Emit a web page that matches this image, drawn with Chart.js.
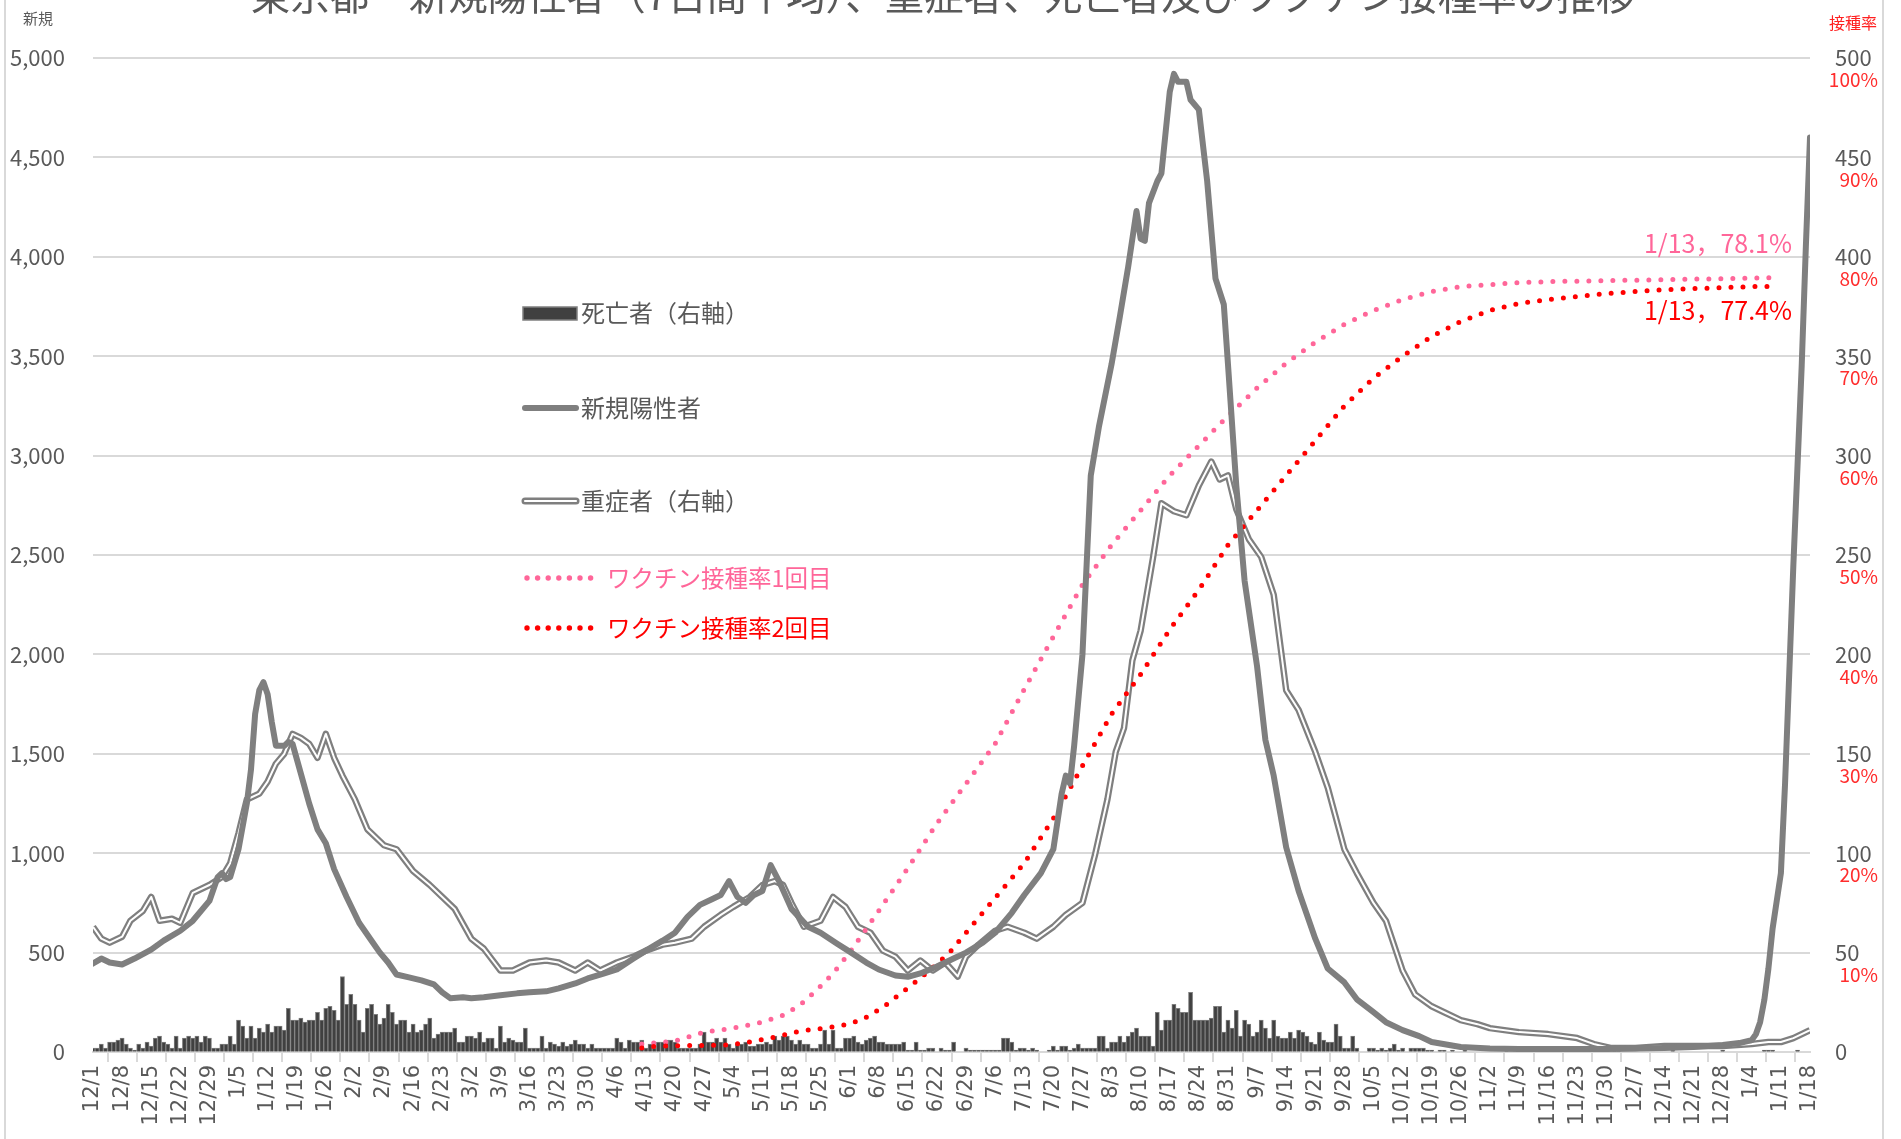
<!DOCTYPE html>
<html>
<head>
<meta charset="utf-8">
<script src="https://cdn.jsdelivr.net/npm/chart.js@4.4.1/dist/chart.umd.min.js"></script>
<style>
  html, body { margin: 0; padding: 0; background: #fff; }
  canvas { display: block; }
</style>
</head>
<body>
<canvas id="chart" width="1901" height="1139"></canvas>
<script>
// ---- data ----
const titleText = '東京都　新規陽性者（7日間平均）、重症者、死亡者及びワクチン接種率の推移';
const pctTicks = [10, 20, 30, 40, 50, 60, 70, 80, 90, 100];

// 新規陽性者 (7日間平均), left axis, from 2020/12/1
const newCases = [
  ['12/1', 445], ['12/3', 470], ['12/5', 450], ['12/8', 440], ['12/11', 470], ['12/15', 515],
  ['12/18', 560], ['12/22', 610], ['12/25', 660], ['12/29', 760], ['12/31', 880], ['1/1', 900],
  ['1/2', 870], ['1/3', 880], ['1/5', 1020], ['1/7', 1250], ['1/8', 1420], ['1/9', 1700],
  ['1/10', 1820], ['1/11', 1860], ['1/12', 1800], ['1/13', 1660], ['1/14', 1540], ['1/16', 1540],
  ['1/17', 1560], ['1/18', 1550], ['1/20', 1400], ['1/22', 1250], ['1/24', 1120], ['1/26', 1050],
  ['1/28', 920], ['1/31', 780], ['2/3', 650], ['2/6', 560], ['2/8', 500], ['2/10', 450],
  ['2/12', 390], ['2/15', 375], ['2/18', 360], ['2/21', 340], ['2/23', 300], ['2/25', 270],
  ['2/28', 275], ['3/2', 270], ['3/5', 275], ['3/9', 285], ['3/13', 295], ['3/16', 300],
  ['3/20', 305], ['3/23', 320], ['3/27', 345], ['3/30', 370], ['4/3', 395], ['4/6', 415],
  ['4/10', 470], ['4/13', 510], ['4/17', 560], ['4/20', 600], ['4/23', 680], ['4/26', 740],
  ['4/29', 770], ['5/1', 790], ['5/3', 860], ['5/5', 780], ['5/7', 750], ['5/9', 790],
  ['5/11', 810], ['5/13', 940], ['5/15', 860], ['5/18', 720], ['5/22', 630], ['5/25', 600],
  ['5/29', 545], ['6/1', 505], ['6/5', 450], ['6/8', 415], ['6/12', 385], ['6/15', 378],
  ['6/18', 395], ['6/22', 430], ['6/26', 470], ['6/29', 500], ['7/3', 550], ['7/6', 600],
  ['7/10', 700], ['7/13', 790], ['7/17', 900], ['7/20', 1020], ['7/22', 1300], ['7/23', 1390],
  ['7/24', 1350], ['7/25', 1540], ['7/27', 2000], ['7/29', 2900], ['7/31', 3150], ['8/3', 3460],
  ['8/5', 3700], ['8/7', 3950], ['8/9', 4230], ['8/10', 4090], ['8/11', 4080], ['8/12', 4270],
  ['8/14', 4380], ['8/15', 4420], ['8/17', 4830], ['8/18', 4920], ['8/19', 4880], ['8/21', 4880],
  ['8/22', 4790], ['8/24', 4740], ['8/26', 4380], ['8/28', 3890], ['8/30', 3760], ['8/31', 3460],
  ['9/2', 2850], ['9/4', 2370], ['9/7', 1940], ['9/9', 1570], ['9/11', 1390], ['9/14', 1030],
  ['9/17', 810], ['9/21', 570], ['9/24', 420], ['9/28', 350], ['10/1', 265], ['10/5', 200],
  ['10/8', 150], ['10/12', 110], ['10/16', 80], ['10/19', 50], ['10/26', 25], ['11/2', 18],
  ['11/9', 15], ['11/16', 15], ['11/23', 15], ['11/30', 15], ['12/7', 18], ['12/14', 20],
  ['12/21', 25], ['12/28', 35], ['1/1', 45], ['1/3', 55], ['1/4', 60], ['1/5', 90],
  ['1/6', 150], ['1/7', 260], ['1/8', 420], ['1/9', 620], ['1/10', 760], ['1/11', 900],
  ['1/12', 1350], ['1/13', 1900], ['1/14', 2450], ['1/15', 2950], ['1/16', 3450], ['1/17', 4050],
  ['1/18', 4600]
];

// 重症者, right axis, from 2020/12/1
const severe = [
  ['12/1', 63], ['12/3', 57], ['12/5', 55], ['12/8', 58], ['12/10', 66], ['12/13', 71],
  ['12/15', 78], ['12/17', 66], ['12/20', 67], ['12/22', 65], ['12/25', 80], ['12/29', 84],
  ['1/1', 88], ['1/3', 95], ['1/5', 110], ['1/7', 127], ['1/10', 130], ['1/12', 136],
  ['1/14', 145], ['1/16', 150], ['1/18', 160], ['1/20', 158], ['1/22', 155], ['1/24', 148],
  ['1/26', 160], ['1/28', 148], ['1/30', 139], ['2/2', 127], ['2/5', 112], ['2/9', 104],
  ['2/12', 102], ['2/16', 91], ['2/20', 84], ['2/23', 78], ['2/26', 72], ['3/2', 57],
  ['3/5', 52], ['3/9', 41], ['3/12', 41], ['3/16', 45], ['3/20', 46], ['3/23', 45],
  ['3/27', 41], ['3/30', 45], ['4/2', 41], ['4/6', 45], ['4/10', 48], ['4/13', 51],
  ['4/17', 54], ['4/20', 55], ['4/24', 57], ['4/27', 63], ['5/1', 69], ['5/4', 73],
  ['5/8', 78], ['5/11', 84], ['5/14', 86], ['5/16', 84], ['5/18', 75], ['5/21', 63],
  ['5/25', 66], ['5/28', 78], ['5/31', 73], ['6/3', 63], ['6/6', 60], ['6/9', 51],
  ['6/12', 48], ['6/15', 41], ['6/18', 46], ['6/21', 41], ['6/24', 45], ['6/27', 38],
  ['6/29', 48], ['7/2', 54], ['7/6', 61], ['7/9', 63], ['7/13', 60], ['7/16', 57],
  ['7/20', 63], ['7/23', 69], ['7/27', 75], ['7/30', 99], ['8/2', 127], ['8/4', 151],
  ['8/6', 163], ['8/8', 197], ['8/10', 212], ['8/13', 249], ['8/15', 276], ['8/18', 272],
  ['8/21', 270], ['8/24', 285], ['8/27', 297], ['8/29', 288], ['8/31', 290], ['9/2', 273],
  ['9/5', 258], ['9/8', 249], ['9/11', 230], ['9/14', 182], ['9/17', 172], ['9/21', 151],
  ['9/24', 133], ['9/28', 102], ['10/1', 90], ['10/5', 75], ['10/8', 66], ['10/12', 41],
  ['10/15', 29], ['10/19', 23], ['10/22', 20], ['10/26', 16], ['10/30', 14], ['11/2', 12],
  ['11/9', 10], ['11/16', 9], ['11/23', 7], ['11/27', 4], ['12/1', 2], ['12/7', 2],
  ['12/14', 3], ['12/21', 3], ['12/28', 3], ['1/4', 4], ['1/8', 5], ['1/11', 5],
  ['1/14', 7], ['1/18', 11]
];

// ワクチン接種率 (%), from 2021/4/12
const vaccine1 = [
  ['4/12', 0.8], ['4/20', 1.1], ['4/27', 2.0], ['5/4', 2.4], ['5/11', 3.0], ['5/16', 3.7],
  ['5/20', 4.7], ['5/24', 6.2], ['5/28', 7.9], ['6/1', 10], ['6/8', 14.2], ['6/15', 18.5],
  ['6/22', 23], ['6/29', 27], ['7/6', 31], ['7/13', 36.5], ['7/20', 41.8], ['7/27', 47],
  ['8/3', 51], ['8/10', 54.5], ['8/17', 58], ['8/24', 61], ['8/31', 64], ['9/7', 66.8],
  ['9/14', 69.3], ['9/21', 71.4], ['9/28', 73.2], ['10/5', 74.6], ['10/12', 75.7], ['10/19', 76.5],
  ['10/26', 77], ['11/2', 77.2], ['11/9', 77.4], ['11/16', 77.5], ['11/30', 77.6], ['12/14', 77.7],
  ['12/28', 77.8], ['1/9', 77.9]
];
const vaccine2 = [
  ['4/12', 0.4], ['4/16', 0.6], ['5/3', 0.7], ['5/8', 1.0], ['5/14', 1.5], ['5/20', 2.1],
  ['5/26', 2.4], ['6/1', 2.8], ['6/5', 3.5], ['6/9', 4.5], ['6/13', 5.8], ['6/17', 7.1],
  ['6/21', 8.5], ['6/25', 10], ['6/29', 12], ['7/6', 15.5], ['7/13', 19], ['7/20', 23.5],
  ['7/27', 28.8], ['8/3', 34], ['8/10', 38], ['8/17', 42.5], ['8/24', 46.5], ['8/31', 51],
  ['9/7', 54.5], ['9/14', 58], ['9/21', 61.5], ['9/28', 65], ['10/5', 67.8], ['10/12', 70],
  ['10/19', 72], ['10/26', 73.5], ['11/2', 74.6], ['11/9', 75.3], ['11/16', 75.7], ['11/23', 76.0],
  ['11/30', 76.3], ['12/7', 76.5], ['12/14', 76.7], ['12/21', 76.8], ['12/28', 76.9], ['1/4', 77.0],
  ['1/9', 77.0]
];

// 死亡者 per day, right axis, 2020/12/1 .. 2022/1/18 (one row = one week)
const deaths = [
  2,2,4,2,5,5,6,  7,4,2,1,4,2,5,  3,7,8,5,4,2,8,  2,7,8,7,8,5,8,
  7,2,2,4,4,8,4,  16,13,7,13,7,12,10,  14,10,13,13,11,22,16,  16,17,15,16,16,20,16,
  22,23,21,16,38,24,29,  24,16,10,22,24,19,14,  17,24,20,14,16,16,10,  14,10,11,14,17,7,9,
  10,10,10,12,5,5,8,  8,7,10,5,7,7,2,  13,5,7,6,5,5,12,  2,2,2,8,2,5,4,
  3,5,3,4,6,4,4,  2,4,2,2,2,2,2,  7,5,2,6,5,5,6,  2,4,2,5,5,6,6,
  5,2,2,2,2,2,4,  10,5,5,7,5,7,4,  2,4,4,5,3,3,4,  4,5,4,8,6,8,8,
  6,4,6,4,4,2,2,  4,11,4,11,2,2,7,  7,8,5,4,6,7,8,  5,5,4,4,4,4,5,
  1,1,5,1,1,2,2,  0,2,1,1,5,0,0,  2,1,1,1,1,1,1,  1,1,7,7,5,1,2,
  2,1,2,1,0,0,1,  3,1,3,3,1,2,4,  2,2,2,2,8,8,2,  5,5,8,5,8,10,12,
  8,8,8,3,20,11,16,  16,24,22,20,20,30,16,  16,16,16,17,23,23,10,  16,12,21,8,16,14,8,
  10,16,12,7,16,8,7,  7,10,7,11,10,8,5,  4,10,6,5,5,14,8,  2,2,8,2,0,0,2,
  2,1,2,1,2,4,1,  2,0,2,2,2,2,1,  1,0,1,1,0,1,0,  0,1,0,0,0,0,0,
  0,0,0,0,1,0,0,  0,0,0,0,0,0,0,  0,0,0,0,0,1,0,  0,0,0,0,0,0,0,
  0,0,1,1,0,0,0,  0,0,0,0,0,0,0,  0,0,1,0,0,0,0,  0,0,0,0,0,0,0,
  1,0,0,0,0,0,0,  0,0,0,1,1,1,0,  0,0,0,0,1,0,0,  0
];

// ---- helpers ----
const START = Date.UTC(2020, 11, 1);
const LAST_DAY = 413; // 2022/1/18
const FONT = "'Noto Sans CJK JP', 'Noto Sans', sans-serif";

function dayIndex(y, m, d) {
  return Math.round((Date.UTC(y, m - 1, d) - START) / 86400000);
}

// dates are M/D in order; the year moves on when the month goes back
function toPoints(pairs, startYear) {
  let year = startYear, lastMonth = 0;
  return pairs.map(([md, v]) => {
    const [m, d] = md.split('/').map(Number);
    if (m < lastMonth) year++;
    lastMonth = m;
    return { x: dayIndex(year, m, d), y: v };
  });
}

function dateLabel(i) {
  const dt = new Date(START + i * 86400000);
  return (dt.getUTCMonth() + 1) + '/' + dt.getUTCDate();
}

const severePts = toPoints(severe, 2020);

const decorations = {
  id: 'decorations',
  afterDraw(chart) {
    const ctx = chart.ctx;
    ctx.save();

    // outer frame lines
    ctx.strokeStyle = '#d9d9d9';
    ctx.lineWidth = 2;
    ctx.beginPath();
    ctx.moveTo(5, 0); ctx.lineTo(5, 1139);
    ctx.moveTo(1883, 0); ctx.lineTo(1883, 1139);
    ctx.stroke();

    // title (cut by the top edge)
    ctx.fillStyle = '#595959';
    ctx.font = '39.5px ' + FONT;
    ctx.textAlign = 'center';
    ctx.textBaseline = 'alphabetic';
    ctx.fillText(titleText, 943, 10);

    // axis captions
    ctx.textBaseline = 'middle';
    ctx.font = '15px ' + FONT;
    ctx.fillText('新規', 38, 18);
    ctx.fillStyle = '#ff2020';
    ctx.font = '16px ' + FONT;
    ctx.fillText('接種率', 1853, 23);

    // percent labels under the right axis numbers
    const yp = chart.scales.yPct;
    ctx.font = '19px ' + FONT;
    ctx.textAlign = 'right';
    ctx.fillStyle = '#ff2d2d';
    pctTicks.forEach(p => {
      ctx.fillText(p + '%', 1878, yp.getPixelForValue(p) + 22);
    });

    // end-of-line notes
    ctx.font = '25px ' + FONT;
    ctx.fillStyle = '#ff6699';
    ctx.fillText('1/13，78.1%', 1792, 243);
    ctx.fillStyle = '#ff0000';
    ctx.fillText('1/13，77.4%', 1792, 310);

    // legend
    ctx.textAlign = 'left';
    ctx.font = '24px ' + FONT;
    ctx.fillStyle = '#404040';
    ctx.fillRect(523, 307, 54, 13);
    ctx.strokeStyle = '#7f7f7f';
    ctx.lineWidth = 1.5;
    ctx.strokeRect(523, 307, 54, 13);
    ctx.fillStyle = '#595959';
    ctx.fillText('死亡者（右軸）', 581, 313);

    ctx.lineCap = 'round';
    ctx.strokeStyle = '#7f7f7f';
    ctx.lineWidth = 6;
    ctx.beginPath(); ctx.moveTo(525, 408); ctx.lineTo(576, 408); ctx.stroke();
    ctx.fillText('新規陽性者', 581, 408);

    ctx.lineWidth = 7;
    ctx.beginPath(); ctx.moveTo(525, 501); ctx.lineTo(576, 501); ctx.stroke();
    ctx.strokeStyle = '#ffffff';
    ctx.lineWidth = 2.2;
    ctx.beginPath(); ctx.moveTo(525, 501); ctx.lineTo(576, 501); ctx.stroke();
    ctx.fillText('重症者（右軸）', 581, 501);

    ctx.font = '23.5px ' + FONT;
    [['#ff6699', 578, 'ワクチン接種率1回目'], ['#ff0000', 628, 'ワクチン接種率2回目']].forEach(([c, y, t]) => {
      ctx.fillStyle = c;
      for (let k = 0; k < 7; k++) {
        ctx.beginPath();
        ctx.arc(527 + k * 10.6, y, 2.7, 0, Math.PI * 2);
        ctx.fill();
      }
      ctx.fillText(t, 607, y);
    });

    ctx.restore();
  }
};

new Chart(document.getElementById('chart'), {
  type: 'bar',
  data: {
    datasets: [
      {
        type: 'line',
        label: 'ワクチン接種率1回目',
        data: toPoints(vaccine1, 2021),
        yAxisID: 'yPct',
        borderColor: '#ff6699',
        borderWidth: 5,
        borderDash: [0, 12],
        borderCapStyle: 'round',
        pointRadius: 0,
        order: 3
      },
      {
        type: 'line',
        label: 'ワクチン接種率2回目',
        data: toPoints(vaccine2, 2021),
        yAxisID: 'yPct',
        borderColor: '#ff0000',
        borderWidth: 5,
        borderDash: [0, 12],
        borderCapStyle: 'round',
        pointRadius: 0,
        order: 2
      },
      {
        type: 'line',
        label: '新規陽性者',
        data: toPoints(newCases, 2020),
        yAxisID: 'y',
        borderColor: '#7f7f7f',
        borderWidth: 6,
        borderJoinStyle: 'round',
        borderCapStyle: 'round',
        pointRadius: 0,
        order: 1
      },
      {
        type: 'line',
        label: '重症者（右軸）',
        data: severePts,
        yAxisID: 'yRight',
        borderColor: '#7f7f7f',
        borderWidth: 6.5,
        borderJoinStyle: 'round',
        pointRadius: 0,
        order: 5
      },
      {
        type: 'line',
        label: '重症者 inner',
        data: severePts,
        yAxisID: 'yRight',
        borderColor: '#ffffff',
        borderWidth: 2,
        borderJoinStyle: 'round',
        pointRadius: 0,
        order: 4
      },
      {
        label: '死亡者（右軸）',
        data: deaths.map((v, i) => ({ x: i, y: v })),
        yAxisID: 'yRight',
        backgroundColor: '#404040',
        borderColor: '#7f7f7f',
        borderWidth: 1,
        barPercentage: 1,
        categoryPercentage: 1,
        order: 10
      }
    ]
  },
  options: {
    responsive: false,
    animation: false,
    layout: { padding: { top: 58, left: 0, right: 0, bottom: 0 } },
    plugins: {
      legend: { display: false },
      title: { display: false },
      tooltip: { enabled: false }
    },
    scales: {
      x: {
        type: 'linear',
        min: 0,
        max: LAST_DAY,
        offset: false,
        afterFit: s => { s.height = 87; },
        border: { display: true, color: '#d9d9d9', width: 2 },
        grid: { drawOnChartArea: false, drawTicks: true, tickLength: 10, color: '#d9d9d9', lineWidth: 2 },
        ticks: {
          stepSize: 7,
          autoSkip: false,
          maxRotation: 90,
          minRotation: 90,
          padding: 3,
          color: '#595959',
          font: { family: "'DejaVu Sans', sans-serif", size: 21 },
          callback: v => dateLabel(v)
        }
      },
      y: {
        position: 'left',
        min: 0,
        max: 5000,
        afterFit: s => { s.width = 93; },
        border: { display: false },
        grid: { color: '#d9d9d9', lineWidth: 2, drawTicks: false },
        ticks: {
          stepSize: 500,
          padding: 28,
          color: '#595959',
          font: { family: FONT, size: 22 },
          callback: v => v.toLocaleString('en-US')
        }
      },
      yRight: {
        position: 'right',
        min: 0,
        max: 500,
        afterFit: s => { s.width = 91; },
        border: { display: false },
        grid: { drawOnChartArea: false, drawTicks: false },
        ticks: {
          stepSize: 50,
          padding: 25,
          color: '#595959',
          font: { family: FONT, size: 22 }
        }
      },
      yPct: {
        display: false,
        min: 0,
        max: 100
      }
    }
  },
  plugins: [decorations]
});
</script>
</body>
</html>
